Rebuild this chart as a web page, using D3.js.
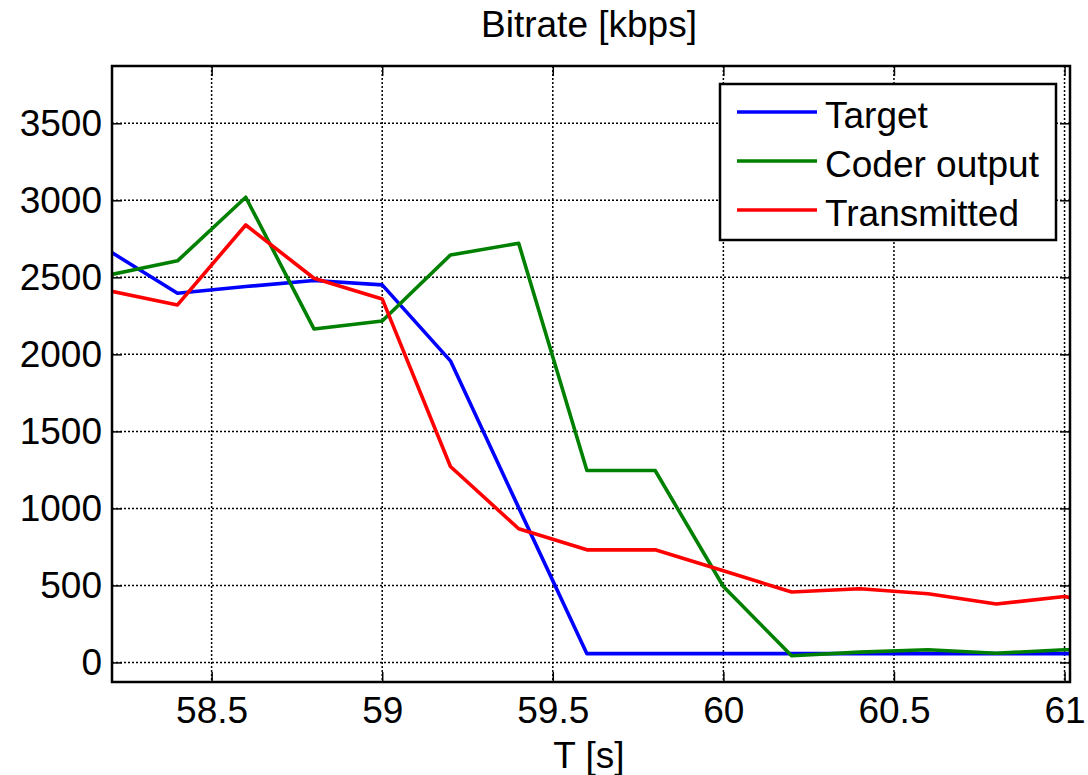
<!DOCTYPE html>
<html lang="en">

<head>
    <title>Bitrate</title>
    <meta charset="UTF-8">
    <script src="https://d3js.org/d3.v7.min.js"></script>

    <style>
        body {
            margin: 0;
            background: #fff;
        }

        text {
            font-family: "Liberation Sans", Arial, sans-serif;
            font-size: 37px;
            fill: #000;
        }
    </style>

</head>

<body>
    <svg width="1088" height="775"></svg>

    <script>
        // data
        const time = [58.2, 58.4, 58.6, 58.8, 59.0, 59.2, 59.4, 59.6, 59.8, 60.0, 60.2, 60.4, 60.6, 60.8, 61.0, 61.2];
        const target = [2671, 2397, 2440, 2479, 2451, 1958, 1005, 57, 57, 57, 57, 57, 57, 57, 57, 57];
        const coderOutput = [2516, 2607, 3020, 2165, 2217, 2645, 2721, 1246, 1246, 493, 43, 67, 82, 60, 82, 85];
        const transmitted = [2412, 2321, 2840, 2494, 2360, 1272, 868, 731, 731, 595, 457, 478, 446, 379, 428, 330];

        const xTicks = [58.5, 59, 59.5, 60, 60.5, 61];
        const yTicks = [0, 500, 1000, 1500, 2000, 2500, 3000, 3500];
        const seriesNames = ["Target", "Coder output", "Transmitted"];
        const seriesColors = ["#0000ff", "#008000", "#ff0000"];

        let svg = d3.select("svg");

        // plot box
        const boxL = 112, boxR = 1070, boxT = 66, boxB = 682;

        let x = d3.scaleLinear().domain([58.208, 61.016]).range([boxL, boxR]);
        let y = d3.scaleLinear().domain([-127, 3872]).range([boxB, boxT]);

        svg.append("defs").append("clipPath").attr("id", "plotclip")
            .append("rect")
            .attr("x", boxL).attr("y", boxT)
            .attr("width", boxR - boxL).attr("height", boxB - boxT);

        // grid (dotted)
        let grid = svg.append("g").attr("class", "grid")
            .attr("stroke", "#000")
            .attr("stroke-width", 1.5)
            .attr("stroke-dasharray", "2,2");

        grid.selectAll(".gx").data(xTicks).enter().append("line")
            .attr("x1", d => x(d)).attr("x2", d => x(d))
            .attr("y1", boxT).attr("y2", boxB);

        grid.selectAll(".gy").data(yTicks).enter().append("line")
            .attr("x1", boxL).attr("x2", boxR)
            .attr("y1", d => y(d)).attr("y2", d => y(d));

        // axes with inward ticks on all four sides
        svg.append("g").attr("transform", `translate(0,${boxB})`)
            .call(d3.axisBottom(x).tickValues(xTicks).tickSizeInner(-10).tickSizeOuter(0).tickPadding(15).tickFormat(d3.format("")));
        svg.append("g").attr("transform", `translate(0,${boxT})`)
            .call(d3.axisTop(x).tickValues(xTicks).tickSizeInner(-10).tickSizeOuter(0).tickFormat(""));
        svg.append("g").attr("transform", `translate(${boxL},0)`)
            .call(d3.axisLeft(y).tickValues(yTicks).tickSizeInner(-10).tickSizeOuter(0).tickPadding(10).tickFormat(d3.format("")));
        svg.append("g").attr("transform", `translate(${boxR},0)`)
            .call(d3.axisRight(y).tickValues(yTicks).tickSizeInner(-10).tickSizeOuter(0).tickFormat(""));

        svg.selectAll(".tick line").attr("stroke", "#000").attr("stroke-width", 1.5);
        svg.selectAll(".domain").remove();
        svg.selectAll(".tick text")
            .attr("font-family", "Liberation Sans, Arial, sans-serif")
            .attr("font-size", 37)
            .attr("fill", "#000");

        // data lines
        let line = d3.line()
            .x(d => x(d[0]))
            .y(d => y(d[1]));

        let allSeries = [target, coderOutput, transmitted];
        svg.append("g").attr("clip-path", "url(#plotclip)")
            .selectAll("path")
            .data(allSeries)
            .enter()
            .append("path")
            .attr("d", vals => line(vals.map((v, i) => [time[i], v])))
            .attr("fill", "none")
            .attr("stroke", (d, i) => seriesColors[i])
            .attr("stroke-width", 3.6)
            .attr("stroke-linejoin", "round");

        // box
        svg.append("rect")
            .attr("x", boxL).attr("y", boxT)
            .attr("width", boxR - boxL).attr("height", boxB - boxT)
            .attr("fill", "none").attr("stroke", "#000").attr("stroke-width", 2.5);

        // legend
        let legend = svg.append("g").attr("transform", "translate(720,84)");
        legend.append("rect")
            .attr("width", 336).attr("height", 156)
            .attr("fill", "#fff").attr("stroke", "#000").attr("stroke-width", 2.5);

        seriesNames.forEach(function (name, i) {
            let rowY = 28 + i * 49;
            legend.append("line")
                .attr("x1", 17).attr("x2", 97)
                .attr("y1", rowY).attr("y2", rowY)
                .attr("stroke", seriesColors[i]).attr("stroke-width", 3.6);
            legend.append("text")
                .attr("x", 105).attr("y", rowY + 16)
                .text(name);
        });

        // titles
        svg.append("text")
            .attr("x", 589).attr("y", 37)
            .attr("text-anchor", "middle")
            .text("Bitrate [kbps]");

        svg.append("text")
            .attr("x", 589).attr("y", 768)
            .attr("text-anchor", "middle")
            .text("T [s]");
    </script>

</body>

</html>
